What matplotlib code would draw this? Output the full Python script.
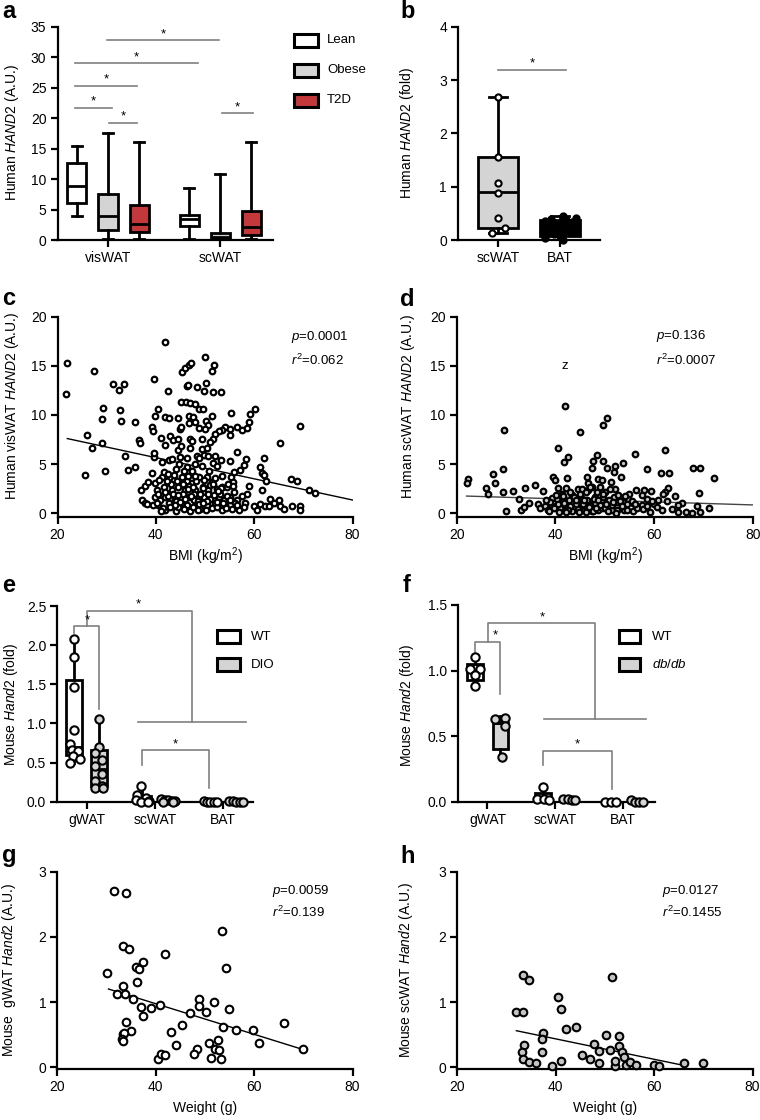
import matplotlib
matplotlib.use('Agg')
import matplotlib.pyplot as plt
from matplotlib.patches import Rectangle

plt.rcParams.update({
    'font.family': ['Liberation Sans', 'DejaVu Sans'],
    'mathtext.fontset': 'custom',
    'mathtext.rm': 'Liberation Sans',
    'mathtext.it': 'Liberation Sans:italic',
    'mathtext.bf': 'Liberation Sans:bold',
    'font.size': 10,
    'axes.linewidth': 1.6,
    'xtick.major.width': 1.6, 'ytick.major.width': 1.6,
    'xtick.major.size': 5, 'ytick.major.size': 5,
    'xtick.major.pad': 3, 'ytick.major.pad': 3,
    'xtick.labelsize': 10, 'ytick.labelsize': 10,
})

# ---------------- data ----------------
# panel a : box stats [min, q1, median, q3, max] for visWAT, scWAT
a_groups = ['visWAT', 'scWAT']
a_series = ['Lean', 'Obese', 'T2D']
a_lean_stats = [[3.9, 6.1, 8.9, 12.6, 15.4], [0.2, 2.3, 3.4, 4.1, 8.6]]
a_obese_stats = [[0.2, 1.7, 4.0, 7.6, 17.5], [0.0, 0.1, 0.5, 1.1, 10.9]]
a_t2d_stats = [[0.2, 1.3, 2.6, 5.8, 16.0], [0.1, 0.8, 2.2, 4.8, 16.0]]

# panel b
b_groups = ['scWAT', 'BAT']
b_scwat_pts = [2.68, 1.55, 1.07, 0.89, 0.41, 0.22, 0.13]
b_scwat_box = [0.13, 0.23, 0.90, 1.55, 2.68]
b_bat_pts = [0.45, 0.42, 0.40, 0.38, 0.36, 0.33, 0.30, 0.27, 0.22, 0.18, 0.12, 0.08, 0.04, 0.0]
b_bat_box = [0.0, 0.08, 0.20, 0.38, 0.45]

# panel c : BMI vs visWAT HAND2
c_bmi = [21.9, 21.7, 27.5, 31.2, 32.5, 33.5, 39.6, 41.8, 42.4, 29.3,
         29.0, 32.8, 32.9, 35.8, 26.0, 27.0, 29.0, 33.7, 35.7, 34.4,
         29.7, 25.6, 36.5, 36.8, 39.2, 39.4, 39.7, 39.6, 39.3, 40.5,
         39.9, 41.9, 42.6, 41.1, 41.9, 42.9, 43.4, 42.6, 41.2, 37.8,
         37.0, 37.1, 37.8, 38.2, 39.9, 40.2, 39.9, 40.5, 41.2, 41.6,
         41.9, 41.9, 42.6, 43.3, 43.6, 43.9, 44.1, 44.6, 45.3, 45.3,
         44.6, 45.0, 44.6, 45.0, 45.2, 44.6, 45.2, 46.2, 45.3, 46.0,
         46.7, 47.2, 46.3, 46.5, 48.3,
         47.0, 47.9, 48.8, 46.7, 47.5, 46.7, 48.0, 48.7, 47.0, 47.3,
         49.4, 47.0, 46.3, 49.4, 48.3, 48.7, 46.3, 47.3, 48.7, 46.3,
         47.3, 46.0, 48.0, 46.7, 47.7, 48.8, 46.3, 48.0, 49.4, 47.0,
         50.0, 51.9, 51.4, 50.3, 49.7, 51.6, 53.2, 49.6, 55.3, 60.1,
         59.2, 58.9, 51.4, 50.2, 50.7, 50.0, 54.1, 55.1, 56.5, 57.5,
         58.5, 53.4, 52.8, 52.1, 51.7, 51.1, 55.0, 69.3, 65.2, 50.4,
         49.7, 50.7, 52.1, 56.5, 58.4, 57.9, 61.1, 61.9, 61.5, 49.4,
         51.7, 52.4, 53.2, 55.0, 55.8, 57.2, 62.1, 62.4, 67.4, 68.7,
         71.1, 72.3, 50.4, 51.4, 49.6, 50.7, 52.4, 53.4, 54.5, 55.3,
         55.7, 55.8, 58.5, 61.6, 49.7, 51.1, 52.8, 53.9, 55.1, 56.5,
         50.4, 52.1, 53.4, 55.5, 57.0, 58.2, 59.9, 61.1, 62.3, 63.3,
         64.1, 65.0, 65.3, 66.1, 67.7, 69.3, 69.4, 63.0, 60.6,
         41.5, 42.5, 43.0, 44.0, 44.5, 45.5, 46.0, 47.5, 48.5, 49.0,
         49.0, 50.5, 51.5, 52.5, 53.0, 54.0, 54.5, 46.8, 45.8, 44.0,
         43.2, 42.2, 40.8, 40.5, 39.5, 38.5, 43.8, 47.8, 48.2, 49.8,
         50.8, 52.0, 53.5, 56.0, 57.5, 44.8, 48.0,
         40.2, 41.0, 41.8, 42.8, 43.5, 44.3, 45.0, 45.8, 46.5, 47.2,
         48.0, 48.8, 49.5, 50.2, 51.0, 51.8, 52.5, 53.3, 54.2, 55.0,
         40.6, 41.6, 42.4, 43.6, 44.6, 45.6, 46.6, 47.6, 48.6, 49.6,
         50.6, 51.6, 52.6, 53.6, 54.6, 55.6, 56.6, 58.0, 59.0, 45.2]
c_hand2 = [15.3, 12.1, 14.5, 13.2, 12.5, 13.2, 13.7, 17.4, 12.4, 10.7,
           9.6, 10.5, 9.4, 9.3, 8.0, 6.6, 7.1, 5.8, 4.7, 4.4,
           4.3, 3.9, 7.5, 7.2, 8.8, 8.4, 5.7, 6.1, 4.1, 10.6,
           9.9, 9.8, 9.7, 7.7, 6.9, 7.9, 7.5, 5.4, 5.2, 2.8,
           2.4, 1.4, 1.0, 0.9, 3.1, 2.4, 1.7, 0.8, 3.7, 2.7,
           1.7, 0.3, 1.0, 2.4, 3.4, 1.5, 0.2, 2.7, 3.7, 1.0,
           6.4, 5.7, 7.6, 8.6, 8.8, 9.7, 11.3, 11.3, 14.4, 14.8,
           15.1, 15.3, 12.9, 13.0, 12.8,
           11.2, 11.1, 10.6, 9.9, 9.8, 9.2, 9.3, 8.7, 7.6, 7.4,
           7.6, 6.6, 5.6, 6.5, 5.8, 5.6, 4.7, 4.3, 3.7, 3.3,
           3.1, 2.4, 2.4, 1.7, 1.4, 1.7, 0.8, 0.7, 0.5, 0.2,
           15.9, 15.1, 14.5, 13.3, 12.4, 12.3, 12.3, 10.6, 10.2, 10.6,
           10.1, 9.3, 9.9, 9.4, 9.0, 8.6, 8.8, 8.6, 8.8, 8.5,
           8.7, 8.5, 8.4, 8.1, 7.6, 7.3, 8.0, 8.9, 7.1, 6.6,
           5.9, 5.8, 5.8, 6.2, 5.5, 4.9, 4.7, 5.6, 4.1, 4.8,
           5.1, 4.8, 5.4, 5.3, 4.2, 4.4, 3.9, 3.3, 3.5, 3.3,
           2.4, 2.1, 3.7, 3.2, 2.7, 2.4, 2.5, 2.7, 2.7, 3.7,
           3.2, 2.2, 2.0, 2.4, 1.7, 1.5, 1.7, 1.4, 1.7, 1.4,
           0.8, 1.0, 0.3, 0.4, 0.3, 1.0, 0.7, 0.9, 0.7, 1.5,
           1.0, 1.3, 0.7, 0.4, 0.7, 0.7, 0.3, 0.7, 0.3,
           0.5, 1.8, 3.0, 1.2, 0.6, 2.0, 1.5, 0.6, 1.2, 2.0,
           0.4, 1.2, 0.5, 0.6, 2.0, 0.8, 1.8, 2.8, 4.3, 4.5,
           5.5, 3.3, 1.3, 2.0, 0.8, 3.2, 0.8, 2.0, 3.3, 3.4,
           4.3, 3.6, 3.8, 1.0, 1.8, 5.0, 5.0,
           1.0, 0.2, 2.2, 0.6, 2.0, 3.3, 1.1, 0.4, 2.5, 1.8,
           3.8, 0.9, 2.6, 0.3, 2.9, 1.9, 1.1, 2.6, 0.5, 1.3,
           3.4, 4.2, 4.0, 3.9, 1.9, 3.0, 3.8, 2.7, 0.3, 1.0,
           2.0, 3.0, 2.3, 1.0, 3.0, 2.8, 0.8, 0.6, 2.8, 6.8]
c_fit_x = [22, 80]
c_fit_y = [7.6, 1.35]

# panel d : BMI vs scWAT HAND2
d_bmi = [22.2, 22.0, 25.9, 26.3, 27.3, 27.8, 29.3, 29.6, 29.3, 29.9,
         31.4, 32.7, 33.9, 33.0, 33.7, 34.7, 35.9, 36.4, 37.4, 36.9,
         37.9, 38.6, 39.3, 39.4, 39.6, 39.9, 40.6, 40.3, 40.5, 42.0,
         41.7, 42.6, 42.4, 42.1, 41.3, 41.6, 41.0, 42.3, 45.0, 43.3,
         44.5, 45.3, 44.0, 45.3, 46.4, 46.6, 47.4, 47.7, 48.4, 46.7,
         47.5, 48.7, 49.1, 49.7, 49.7, 46.0, 47.4, 48.1, 49.4, 48.7,
         43.3, 44.7, 47.4,
         50.4, 56.1, 62.2, 50.5, 52.1, 53.8, 51.9, 53.4, 58.5, 61.4,
         63.0, 67.8, 69.3, 72.2, 49.4, 51.2, 52.1, 50.1, 56.3, 58.0,
         59.3, 62.9, 62.2, 61.9, 69.2, 64.3, 49.7, 51.8, 53.4, 54.8,
         58.5, 60.9, 50.4, 52.4, 55.8, 57.5, 59.9, 62.6, 65.6, 68.8,
         71.2, 49.4, 51.4, 53.8, 55.8, 59.2, 61.6, 63.6, 64.9, 66.5,
         67.6, 69.3, 57.8, 64.9,
         43.5, 44.5, 45.5, 46.5, 47.0, 48.0, 48.5, 49.0, 50.0, 50.8,
         51.5, 52.5, 53.0, 54.0, 54.5, 55.0, 42.8, 41.5, 40.5, 39.0,
         38.0, 45.0, 46.2, 47.8, 44.2, 43.0,
         38.8, 39.8, 40.8, 41.8, 42.6, 43.8, 44.8, 45.8, 46.8, 47.6,
         48.6, 49.6, 50.6, 51.6, 52.6, 53.6, 54.6, 55.6, 56.6, 57.6,
         58.6, 59.6, 40.2, 42.2, 44.2, 46.2, 48.2, 50.2, 52.2, 54.2,
         56.2, 60.5, 43.0, 47.0, 51.0]
d_hand2 = [3.5, 3.1, 2.6, 2.0, 4.0, 3.1, 4.5, 8.5, 2.2, 0.2,
           2.3, 1.5, 2.6, 0.3, 0.6, 1.0, 2.9, 0.9, 2.3, 0.5,
           0.7, 0.3, 0.7, 1.6, 3.7, 3.4, 2.6, 1.5, 6.6, 10.9,
           5.2, 5.7, 3.6, 2.6, 2.0, 1.2, 0.5, 0.5, 8.3, 1.9,
           2.5, 2.5, 1.2, 1.5, 3.7, 3.1, 4.6, 5.3, 5.9, 2.4,
           2.7, 3.5, 2.7, 9.0, 5.3, 0.7, 0.8, 1.7, 1.4, 0.3,
           0.2, 0.3, 0.2,
           9.7, 6.0, 6.4, 4.6, 4.8, 5.1, 4.2, 3.7, 4.5, 4.1,
           4.1, 4.6, 4.6, 3.6, 3.4, 3.2, 2.5, 2.2, 2.4, 2.4,
           2.3, 2.6, 2.2, 2.0, 2.1, 1.8, 1.7, 1.7, 1.6, 1.5,
           1.5, 1.4, 1.0, 1.1, 1.0, 0.8, 0.9, 1.2, 1.0, 0.7,
           0.5, 0.5, 0.3, 0.5, 0.2, 0.1, 0.3, 0.4, 0.1, 0.1,
           0.0, 0.1, 0.4, 0.8,
           1.0, 0.4, 0.9, 1.3, 0.4, 1.0, 2.2, 0.8, 0.5, 1.4,
           0.8, 0.3, 1.2, 0.3, 0.9, 2.0, 1.4, 1.8, 0.9, 1.1,
           1.3, 2.0, 2.2, 1.5, 0.9, 0.7,
           0.2, 0.5, 0.1, 1.0, 0.3, 1.7, 0.1, 1.4, 0.6, 0.2,
           1.3, 2.0, 0.2, 1.1, 1.9, 0.7, 0.3, 1.2, 0.5, 1.9,
           0.7, 1.2, 1.9, 0.1, 1.3, 0.1, 0.5, 0.9, 0.0, 1.8,
           0.9, 0.6, 2.2, 2.7, 2.5]
d_fit_x = [22, 80]
d_fit_y = [1.75, 0.85]

# panel e : mouse DIO
e_groups = ['gWAT', 'scWAT', 'BAT']
e_wt_gwat = [2.08, 1.85, 1.46, 0.92, 0.74, 0.66, 0.65, 0.58, 0.55, 0.50]
e_dio_gwat = [1.06, 0.70, 0.62, 0.53, 0.45, 0.36, 0.27, 0.20, 0.18, 0.18]
e_wt_scwat = [0.20, 0.08, 0.05, 0.02, 0.01, 0.00, 0.00]
e_dio_scwat = [0.03, 0.02, 0.02, 0.01, 0.01, 0.00, 0.00]
e_wt_bat = [0.01, 0.00, 0.00, 0.00, 0.00]
e_dio_bat = [0.01, 0.01, 0.00, 0.00, 0.00]
e_wt_gwat_box = [0.50, 0.60, 0.70, 1.55, 2.08]
e_dio_gwat_box = [0.18, 0.20, 0.42, 0.66, 1.06]
e_wt_scwat_box = [0.00, 0.00, 0.02, 0.07, 0.20]

# panel f : mouse db/db
f_wt_gwat = [1.10, 1.01, 1.01, 0.97, 0.88]
f_db_gwat = [0.63, 0.64, 0.58, 0.34]
f_wt_scwat = [0.11, 0.02, 0.02, 0.01]
f_db_scwat = [0.02, 0.02, 0.01, 0.01]
f_wt_bat = [0.00, 0.00, 0.00]
f_db_bat = [0.01, 0.00, 0.00, 0.00]
f_wt_gwat_box = [0.88, 0.93, 1.00, 1.05, 1.10]
f_db_gwat_box = [0.34, 0.40, 0.60, 0.60, 0.65]
f_wt_scwat_box = [0.01, 0.01, 0.02, 0.07, 0.11]

# panel g / h : weight vs Hand2
g_weight = [31.6, 33.9, 33.3, 34.5, 30.2, 35.9, 36.6, 37.5, 41.8, 36.1,
            33.3, 32.1, 33.8, 35.3, 37.1, 39.1, 40.9, 37.5, 33.9, 34.9,
            33.3, 33.6, 33.1, 33.3, 43.1, 45.3, 44.2, 40.4, 41.1, 41.9,
            47.0, 48.7, 48.9, 50.2, 51.9, 53.4, 54.2, 54.8, 53.6, 56.3,
            59.7, 60.9, 66.0, 69.9, 50.9, 52.7, 48.4, 47.7, 52.1, 52.9,
            51.2, 53.2]
g_hand2 = [2.70, 2.67, 1.86, 1.81, 1.44, 1.53, 1.50, 1.62, 1.73, 1.30,
           1.24, 1.13, 1.13, 1.05, 0.92, 0.91, 0.96, 0.79, 0.70, 0.56,
           0.51, 0.52, 0.43, 0.40, 0.54, 0.64, 0.34, 0.13, 0.21, 0.18,
           0.83, 1.05, 0.94, 0.84, 1.00, 2.09, 1.52, 0.90, 0.62, 0.57,
           0.57, 0.37, 0.68, 0.28, 0.37, 0.41, 0.28, 0.20, 0.28, 0.26,
           0.14, 0.13]
g_fit_x = [30.4, 70]
g_fit_y = [1.20, 0.27]

h_weight = [33.3, 34.6, 31.9, 33.3, 40.5, 41.0, 42.0, 44.1, 51.5, 37.5,
            37.3, 33.6, 33.1, 37.3, 33.4, 34.6, 36.0, 39.3, 41.0, 45.4,
            47.0, 47.8, 48.7, 48.9, 50.2, 51.0, 52.1, 52.1, 52.8, 52.8,
            53.4, 53.8, 54.3, 55.0, 56.3, 59.9, 61.0, 66.0, 69.9]
h_hand2 = [1.41, 1.34, 0.85, 0.85, 1.08, 0.89, 0.58, 0.62, 1.39, 0.53,
           0.44, 0.34, 0.23, 0.23, 0.13, 0.08, 0.06, 0.02, 0.10, 0.19,
           0.13, 0.36, 0.25, 0.07, 0.50, 0.26, 0.02, 0.09, 0.48, 0.33,
           0.23, 0.16, 0.04, 0.08, 0.03, 0.03, 0.02, 0.07, 0.07]
h_fit_x = [32, 66.5]
h_fit_y = [0.56, 0.02]

# ---------------- drawing ----------------
W, H = 760, 1120
fig = plt.figure(figsize=(W / 100, H / 100), dpi=100)

GRAY = '#d4d4d4'
RED = '#c3383a'
SIG = '#808080'


def px_axes(x0, x1, y0, y1):
    return fig.add_axes([x0 / W, 1 - y1 / H, (x1 - x0) / W, (y1 - y0) / H])


def style(ax):
    for s in ('top', 'right'):
        ax.spines[s].set_visible(False)
    ax.tick_params(direction='out')


def ylab(ax, text, xpx, ypx):
    ax.set_ylabel(text, fontsize=10, ha='center', va='center')
    ax.yaxis.set_label_coords(xpx / W, 1 - ypx / H, transform=fig.transFigure)


def xlab(ax, text, xpx, ypx):
    ax.set_xlabel(text, fontsize=10, ha='center', va='center')
    ax.xaxis.set_label_coords(xpx / W, 1 - ypx / H, transform=fig.transFigure)


def letter(s, xpx, ypx):
    fig.text(xpx / W, 1 - ypx / H, s, fontsize=17, fontweight='bold',
             ha='left', va='baseline')


def st(v):
    return dict(whislo=v[0], q1=v[1], med=v[2], q3=v[3], whishi=v[4], fliers=[])


def box(ax, v, pos, width, fc, capw=None, showcaps=True, lw=2.0, z=2):
    ax.bxp([st(v)], positions=[pos], widths=[width], patch_artist=True,
           showfliers=False, showcaps=showcaps, manage_ticks=False,
           capwidths=[capw if capw else width * 0.5],
           boxprops=dict(facecolor=fc, edgecolor='black', linewidth=lw),
           whiskerprops=dict(color='black', linewidth=lw),
           capprops=dict(color='black', linewidth=lw),
           medianprops=dict(color='black', linewidth=lw), zorder=z)


def fig_rect(x0, y0, x1, y1, fc):
    fig.add_artist(Rectangle((x0 / W, 1 - y1 / H), (x1 - x0) / W, (y1 - y0) / H,
                             transform=fig.transFigure, facecolor=fc,
                             edgecolor='black', linewidth=2.2))


def fig_label(x, y, s, **kw):
    fig.text(x / W, 1 - y / H, s, fontsize=9.5, ha='left', va='center', **kw)


def bracket(ax, xs, ys):
    ax.plot(xs, ys, color=SIG, lw=1.2, clip_on=False, zorder=1)


def star(ax, x, y):
    ax.text(x, y, '*', ha='center', va='bottom', fontsize=9.5, clip_on=False)


# ---- panel a ----
ax = px_axes(57.5, 273, 26.7, 240)
style(ax)
ax.set_xlim(-0.45, 1.47)
ax.set_ylim(0, 35)
ax.set_yticks(range(0, 36, 5))
ax.set_xticks(range(len(a_groups)))
ax.set_xticklabels(a_groups)
a_offs = [-0.277, 0.0, 0.277]
a_cols = ['white', GRAY, RED]
for si, stats in enumerate([a_lean_stats, a_obese_stats, a_t2d_stats]):
    for gi in range(len(a_groups)):
        box(ax, stats[gi], gi + a_offs[si], 0.17, a_cols[si], capw=0.09)
a_sig = [(-0.295, 0.036, 21.7), (0.009, 0.26, 19.25), (-0.295, 0.26, 25.3),
         (-0.295, 0.80, 29.0), (-0.009, 0.99, 32.8), (1.02, 1.29, 20.8)]
for x0, x1, y in a_sig:
    bracket(ax, [x0, x1], [y, y])
    star(ax, (x0 + x1) / 2, y)
ylab(ax, r'Human $\mathit{HAND2}$ (A.U.)', 12, 133)
for name, col, yc in zip(a_series, a_cols, [40, 70, 100]):
    fig_rect(293.5, yc - 6.5, 318, yc + 6.5, col)
    fig_label(327, yc, name)

# ---- panel b ----
ax = px_axes(458, 600, 26.7, 240)
style(ax)
ax.set_xlim(-0.645, 1.645)
ax.set_ylim(0, 4)
ax.set_yticks(range(0, 5))
ax.set_xticks(range(len(b_groups)))
ax.set_xticklabels(b_groups)
box(ax, b_scwat_box, 0, 0.63, GRAY, capw=0.3)
box(ax, b_bat_box, 1, 0.63, 'black', capw=0.3)
b_sc_dx = [0, 0, 0, 0, 0, 0.11, -0.1]
ax.scatter([0 + d for d in b_sc_dx], b_scwat_pts, s=20, facecolor='white',
           edgecolor='black', linewidths=1.5, zorder=4, clip_on=False)
b_bat_dx = [0.05, 0.25, -0.15, 0.1, -0.25, 0.2, -0.05, 0.15, -0.2, 0.25,
            -0.1, 0.0, -0.25, 0.05]
ax.scatter([1 + d for d in b_bat_dx], b_bat_pts, s=20, facecolor='black',
           edgecolor='black', linewidths=1.5, zorder=4, clip_on=False)
bracket(ax, [0, 1.09], [3.19, 3.19])
star(ax, 0.55, 3.19)
ylab(ax, r'Human $\mathit{HAND2}$ (fold)', 407, 133)


# ---- scatter panels ----
def scatter_panel(x0, x1, y0, y1, xs, ys, fc, fitx, fity, ymax, yticks,
                  ybottom, s, lw, fitcol='black'):
    ax = px_axes(x0, x1, y0, y1)
    style(ax)
    ax.set_xlim(20, 80)
    ax.set_ylim(ybottom, ymax)
    ax.set_xticks([20, 40, 60, 80])
    ax.set_yticks(yticks)
    ax.plot(fitx, fity, color=fitcol, lw=1.0, zorder=2)
    ax.scatter(xs, ys, s=s, facecolor=fc, edgecolor='black', linewidths=lw,
               zorder=3, clip_on=False)
    return ax


ax = scatter_panel(57.5, 352.5, 316.7, 517.2, c_bmi, c_hand2, 'white',
                   c_fit_x, c_fit_y, 20, [0, 5, 10, 15, 20], -0.4, 16, 1.6)
ax.text(67.4, 17.9, r'$\mathit{p}$=0.0001', va='center', fontsize=9.5)
ax.text(67.4, 15.6, r'$\mathit{r}^2$=0.062', va='center', fontsize=9.5)
ylab(ax, r'Human visWAT $\mathit{HAND2}$ (A.U.)', 12, 406)
xlab(ax, r'BMI (kg/m$^2$)', 205, 556)

ax = scatter_panel(456.7, 752.7, 316.7, 517.2, d_bmi, d_hand2, '#c4c4c4',
                   d_fit_x, d_fit_y, 20, [0, 5, 10, 15, 20], -0.4, 16, 1.6,
                   fitcol='#444444')
ax.text(60.5, 18.0, r'$\mathit{p}$=0.136', va='center', fontsize=9.5)
ax.text(60.5, 15.6, r'$\mathit{r}^2$=0.0007', va='center', fontsize=9.5)
ax.text(41.95, 15.0, 'z', ha='center', va='center', fontsize=9.5)
ylab(ax, r'Human scWAT $\mathit{HAND2}$ (A.U.)', 408, 406)
xlab(ax, r'BMI (kg/m$^2$)', 605, 556)

ax = scatter_panel(57.3, 352.5, 871.7, 1068.5, g_weight, g_hand2, 'white',
                   g_fit_x, g_fit_y, 3, [0, 1, 2, 3], -0.02, 30, 1.5)
ax.text(63.6, 2.71, r'$\mathit{p}$=0.0059', va='center', fontsize=9.5)
ax.text(63.6, 2.37, r'$\mathit{r}^2$=0.139', va='center', fontsize=9.5)
ylab(ax, r'Mouse  gWAT $\mathit{Hand2}$ (A.U.)', 9, 970)
xlab(ax, 'Weight (g)', 205, 1108)

ax = scatter_panel(457.3, 752.5, 871.7, 1068.5, h_weight, h_hand2, '#c4c4c4',
                   h_fit_x, h_fit_y, 3, [0, 1, 2, 3], -0.02, 30, 1.5)
ax.text(61.6, 2.71, r'$\mathit{p}$=0.0127', va='center', fontsize=9.5)
ax.text(61.6, 2.37, r'$\mathit{r}^2$=0.1455', va='center', fontsize=9.5)
ylab(ax, r'Mouse scWAT $\mathit{Hand2}$ (A.U.)', 406, 970)
xlab(ax, 'Weight (g)', 605, 1108)


# ---- panels e / f ----
def mouse_panel(x0, x1, y0, y1, xlim, ymax, yticks):
    ax = px_axes(x0, x1, y0, y1)
    style(ax)
    ax.set_xlim(*xlim)
    ax.set_ylim(0, ymax)
    ax.set_yticks(yticks)
    ax.set_yticklabels(['%.1f' % t for t in yticks])
    ax.set_xticks(range(len(e_groups)))
    ax.set_xticklabels(e_groups)
    return ax


def pts(ax, center, dx, vals, fc):
    ax.scatter([center + d for d in dx], vals, s=36, facecolor=fc,
               edgecolor='black', linewidths=1.5, zorder=4, clip_on=False)


ax = mouse_panel(57.3, 253.3, 606, 801.7, (-0.44, 2.44), 2.5,
                 [0, 0.5, 1.0, 1.5, 2.0, 2.5])
box(ax, e_wt_gwat_box, -0.19, 0.24, 'white', showcaps=False)
box(ax, e_dio_gwat_box, 0.17, 0.24, GRAY, showcaps=False)
box(ax, e_wt_scwat_box, 0.81, 0.24, 'white', showcaps=False)
pts(ax, -0.19, [0, 0, 0, 0, -0.07, -0.04, 0.06, -0.02, 0.08, -0.07], e_wt_gwat, 'white')
pts(ax, 0.17, [0, 0, -0.06, 0.05, -0.05, 0.04, -0.05, 0.05, -0.06, 0.06], e_dio_gwat, GRAY)
pts(ax, 0.81, [-0.02, -0.08, 0.06, -0.1, 0.1, -0.02, 0.08], e_wt_scwat, 'white')
pts(ax, 1.19, [-0.1, -0.05, 0.0, 0.05, 0.1, -0.07, 0.07], e_dio_scwat, GRAY)
pts(ax, 1.81, [-0.1, -0.05, 0.0, 0.05, 0.1], e_wt_bat, 'white')
pts(ax, 2.19, [-0.1, -0.05, 0.0, 0.05, 0.1], e_dio_bat, GRAY)
bracket(ax, [-0.19, -0.19, 0.17, 0.17], [2.15, 2.24, 2.24, 1.19])
star(ax, 0.0, 2.24)
bracket(ax, [-0.01, -0.01, 1.54, 1.54], [2.24, 2.44, 2.44, 1.02])
bracket(ax, [0.74, 2.34], [1.02, 1.02])
star(ax, 0.75, 2.44)
bracket(ax, [0.80, 0.80, 1.79, 1.79], [0.47, 0.66, 0.66, 0.17])
star(ax, 1.29, 0.66)
ylab(ax, r'Mouse $\mathit{Hand2}$ (fold)', 11, 704)
fig_rect(217, 630, 239.5, 642.5, 'white')
fig_label(251, 636.5, 'WT')
fig_rect(217, 658, 239.5, 670.5, GRAY)
fig_label(251, 664.5, 'DIO')

ax = mouse_panel(458.3, 655, 605, 801.7, (-0.43, 2.47), 1.5,
                 [0, 0.5, 1.0, 1.5])
box(ax, f_wt_gwat_box, -0.18, 0.23, 'white', showcaps=False)
box(ax, f_db_gwat_box, 0.19, 0.23, GRAY, showcaps=False)
box(ax, f_wt_scwat_box, 0.82, 0.23, 'white', showcaps=False)
pts(ax, -0.18, [0, -0.08, 0.07, 0.0, 0.0], f_wt_gwat, 'white')
pts(ax, 0.19, [-0.08, 0.07, 0.07, 0.02], f_db_gwat, GRAY)
pts(ax, 0.82, [0.0, -0.09, 0.02, 0.09], f_wt_scwat, 'white')
pts(ax, 1.2, [-0.08, -0.02, 0.04, 0.09], f_db_scwat, GRAY)
pts(ax, 1.82, [-0.08, 0.0, 0.08], f_wt_bat, 'white')
pts(ax, 2.2, [-0.09, -0.03, 0.03, 0.09], f_db_bat, GRAY)
bracket(ax, [-0.18, -0.18, 0.19, 0.19], [1.12, 1.22, 1.22, 0.82])
star(ax, 0.11, 1.22)
bracket(ax, [0.01, 0.01, 1.58, 1.58], [1.22, 1.36, 1.36, 0.63])
bracket(ax, [0.84, 2.33], [0.63, 0.63])
star(ax, 0.81, 1.36)
bracket(ax, [0.82, 0.82, 1.84, 1.84], [0.28, 0.39, 0.39, 0.10])
star(ax, 1.33, 0.39)
ylab(ax, r'Mouse $\mathit{Hand2}$ (fold)', 407, 705)
fig_rect(618.5, 630, 640, 642.5, 'white')
fig_label(652, 636.5, 'WT')
fig_rect(618.5, 658, 640, 670.5, GRAY)
fig_label(652, 664.5, r'$\mathit{db/db}$')

# ---- panel letters ----
letter('a', 2, 17.5)
letter('b', 400, 18)
letter('c', 2, 305)
letter('d', 400, 306)
letter('e', 2, 592)
letter('f', 403, 592)
letter('g', 2, 862)
letter('h', 400, 863)

fig.savefig('out.png', dpi=100)
